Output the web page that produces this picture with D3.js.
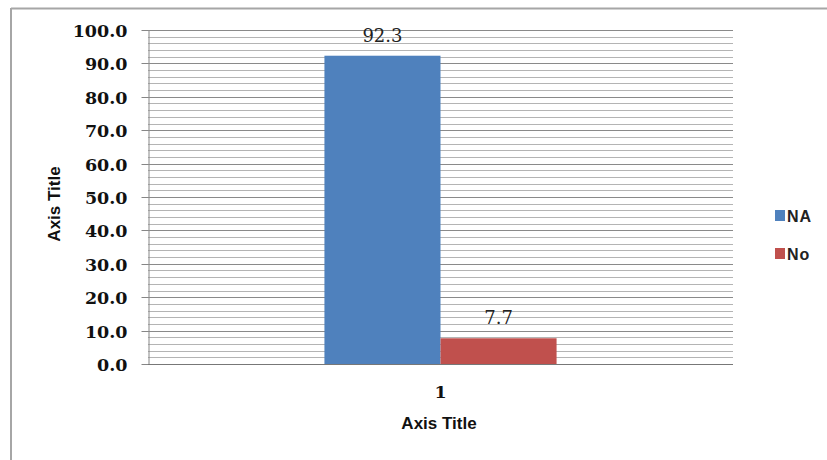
<!DOCTYPE html>
<html><head><meta charset="utf-8">
<script src="https://cdn.jsdelivr.net/npm/d3@7"></script>
<style>body{margin:0;background:#fff;}svg{display:block;}</style>
</head><body>
<svg id="c" width="827" height="460"></svg>
<script>
const categories = ["1"];
const seriesNames = ["NA", "No"];
const seriesValues = [92.3, 7.7];
const seriesColors = ["#4F81BD", "#C0504D"];
const yTicks = [0, 10, 20, 30, 40, 50, 60, 70, 80, 90, 100];
const yMinorTicks = d3.range(0, 101, 2);

const svg = d3.select("#c");
const W = 827, H = 460;
const m = {left: 148, right: 733, top: 30, bottom: 364};

// outer border (top and left only visible)
svg.append("line").attr("x1", 11).attr("x2", W).attr("y1", 8.5).attr("y2", 8.5).attr("stroke", "#a6a6a6").attr("stroke-width", 2);
svg.append("line").attr("x1", 11).attr("x2", 11).attr("y1", 8).attr("y2", H).attr("stroke", "#a6a6a6").attr("stroke-width", 2);

const y = d3.scaleLinear().domain([0, 100]).range([m.bottom, m.top]);
const x0 = d3.scaleBand().domain(categories).range([m.left, m.right]).paddingInner(0).paddingOuter(0.76);
const x1 = d3.scaleBand().domain(seriesNames).range([0, x0.bandwidth()]);

// minor gridlines
svg.append("g").selectAll("line").data(yMinorTicks.filter(v => v % 10 !== 0)).join("line")
  .attr("x1", m.left).attr("x2", m.right)
  .attr("y1", d => Math.round(y(d)) + 0.5).attr("y2", d => Math.round(y(d)) + 0.5)
  .attr("stroke", "#b4b4b4").attr("stroke-width", 1);

// major gridlines + ticks via axis
const yAxis = d3.axisLeft(y).tickValues(yTicks).tickFormat(d3.format(".1f")).tickSize(7).tickSizeOuter(0);
const gy = svg.append("g").attr("transform", `translate(${m.left + 0.5},0)`).call(yAxis);
gy.select(".domain").attr("stroke", "#868686");
gy.selectAll(".tick line").attr("stroke", "#868686");
gy.selectAll(".tick").attr("transform", d => `translate(0,${Math.round(y(d)) + 0.5})`);
gy.selectAll(".tick text").attr("x", -21).attr("dy", "0.35em")
  .attr("font-family", "DejaVu Serif").attr("font-weight", "bold").attr("font-size", 17.5).attr("fill", "#111");

svg.append("g").selectAll("line").data(yTicks).join("line")
  .attr("x1", m.left).attr("x2", m.right)
  .attr("y1", d => Math.round(y(d)) + 0.5).attr("y2", d => Math.round(y(d)) + 0.5)
  .attr("stroke", "#8a8a8a").attr("stroke-width", 1);

// bars
const groups = svg.append("g").selectAll("g").data(categories).join("g")
  .attr("transform", d => `translate(${x0(d)},0)`);
groups.selectAll("rect").data(() => seriesNames.map((n, i) => ({n, v: seriesValues[i], c: seriesColors[i]}))).join("rect")
  .attr("x", d => x1(d.n)).attr("width", x1.bandwidth())
  .attr("y", d => y(d.v)).attr("height", d => y(0) - y(d.v))
  .attr("fill", d => d.c);
groups.selectAll("text").data(() => seriesNames.map((n, i) => ({n, v: seriesValues[i]}))).join("text")
  .attr("x", d => x1(d.n) + x1.bandwidth() / 2).attr("y", d => y(d.v) - 14)
  .attr("text-anchor", "middle").attr("font-family", "DejaVu Serif").attr("font-size", 18).attr("fill", "#222")
  .text(d => d3.format(".1f")(d.v));

// baseline
svg.append("line").attr("x1", m.left).attr("x2", m.right).attr("y1", y(0) + 0.5).attr("y2", y(0) + 0.5).attr("stroke", "#777");

// x axis label
const xAxis = d3.axisBottom(x0).tickSize(0);
const gx = svg.append("g").attr("transform", `translate(0,${m.bottom})`).call(xAxis);
gx.select(".domain").remove();
gx.selectAll(".tick text").attr("y", 34).attr("dy", 0)
  .attr("font-family", "DejaVu Serif").attr("font-weight", "bold").attr("font-size", 17.5).attr("fill", "#111");

// axis titles
svg.append("text").attr("x", 439).attr("y", 429).attr("text-anchor", "middle")
  .attr("font-family", "Liberation Sans").attr("font-weight", "bold").attr("font-size", 17).attr("fill", "#111").text("Axis Title");
svg.append("text").attr("transform", "translate(60,204) rotate(-90)").attr("text-anchor", "middle")
  .attr("font-family", "Liberation Sans").attr("font-weight", "bold").attr("font-size", 17).attr("fill", "#111").text("Axis Title");

// legend
const lg = svg.append("g").selectAll("g").data(seriesNames).join("g")
  .attr("transform", (d, i) => `translate(775,${210 + i * 38})`);
lg.append("rect").attr("width", 10).attr("height", 11).attr("fill", (d, i) => seriesColors[i]);
lg.append("text").attr("x", 12).attr("y", 12).attr("font-family", "Liberation Sans").attr("font-weight", "bold")
  .attr("font-size", 16).attr("letter-spacing", 1).attr("fill", "#222").text(d => d);
</script>
</body></html>
